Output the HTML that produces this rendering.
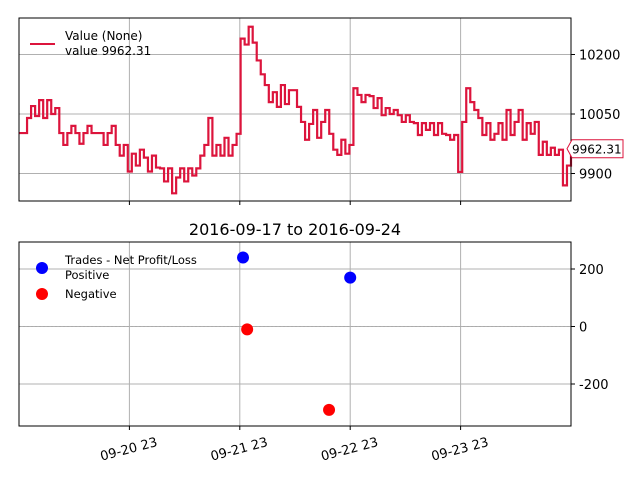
<!DOCTYPE html>
<html><head><meta charset="utf-8"><style>
body{margin:0;background:#fff;}
svg{display:block;font-family:"DejaVu Sans","Liberation Sans",sans-serif;}
</style></head><body>
<svg id="c" width="640" height="480"></svg>
<script>
const values=[10002,10002,
10040,10070,10045,10085,10040,10085,10050,10065,
10002,9972,10002,10020,10002,9975,10002,10020,10002,10002,
10002,9972,10002,10020,9972,
9945,9972,9905,9950,9920,9960,9940,9905,9945,9915,
9913,9880,9913,9850,9890,9913,9880,9913,9895,9913,
9945,9972,10040,9945,9972,9945,9990,9945,9972,10000,
10240,10225,10270,10230,
10185,10150,
10123,10080,10105,10068,10123,10075,10110,
10110,10068,
10030,9985,10025,10060,9990,10030,10060,10000,
9960,9947,9985,9950,9972,
10115,10098,10080,10098,10095,
10065,10090,10047,10065,10050,10060,
10047,10030,10047,10030,
10027,9997,10027,10010,10027,9997,10027,10000,
9997,9985,9997,9904,
10030,10115,10080,
10060,10040,
9997,10027,9985,10000,10027,9985,10060,9997,10030,10060,9985,10027,10000,10030,
9947,9980,9947,9965,9947,9960,
9870,9920,9962.31];
const topTicks=[9900,10050,10200];
const botTicks=[-200,0,200];
const xTickHours=[24,48,72,96];
const xTickLabels=["09-20 23","09-21 23","09-22 23","09-23 23"];
const posHours=[48.7,72.0];
const posValues=[240,170];
const negHours=[49.6,67.4];
const negValues=[-10,-290];

const NS="http://www.w3.org/2000/svg";
const svg=document.getElementById('c');
function mk(t,a,p){const e=document.createElementNS(NS,t);for(const k in a)e.setAttribute(k,a[k]);(p||svg).appendChild(e);return e;}
const X0=19,X1=571;
const xs=h=>X0+h/120*(X1-X0);
const yTop=v=>114-(v-10050)*59.5/150;
const yBot=v=>326.5-v*0.2875;

[[18,201,yTop,topTicks],[242,426,yBot,botTicks]].forEach(([t,b,f,ticks],k)=>{
  xTickHours.forEach(h=>{const l=mk('line',{x1:xs(h),x2:xs(h),y1:t,y2:b,stroke:'#b0b0b0','stroke-width':1});
    
    
    const tk=mk('line',{x1:xs(h),x2:xs(h),y1:b,y2:b+4,stroke:'#000'});
    
    });
  ticks.forEach(v=>{const y=f(v);
    const g=mk('line',{x1:X0,x2:X1,y1:y,y2:y,stroke:'#b0b0b0','stroke-width':1});
    
    
    mk('line',{x1:X1,x2:X1+4,y1:y,y2:y,stroke:'#000'});
    const tx=mk('text',{x:X1+8,y:y+5,'font-size':13,fill:'#000'});tx.textContent=v;
    
    });
});
const z=mk('line',{x1:X0,x2:X1,y1:yBot(0),y2:yBot(0),stroke:'#aaa','stroke-dasharray':'2,2'});



let d='';const n=values.length;
values.forEach((v,i)=>{const x=xs(i*120/(n-1));const y=yTop(v);
  if(i===0)d+='M'+x+','+y;else d+='H'+x+'V'+y;});
const p=mk('path',{d:d,fill:'none',stroke:'#dc143c','stroke-width':2.2});



posHours.forEach((h,i)=>{const c=mk('circle',{cx:xs(h),cy:yBot(posValues[i]),r:6,fill:'#0000ff'});
  
  });
negHours.forEach((h,i)=>{const c=mk('circle',{cx:xs(h),cy:yBot(negValues[i]),r:6,fill:'#ff0000'});
  
  });

[[18,201],[242,426]].forEach(([t,b])=>{const r=mk('rect',{x:X0,y:t,width:X1-X0,height:b-t,fill:'none',stroke:'#000','stroke-width':1});
  
  });

xTickHours.forEach((h,i)=>{const x=xs(h);
  const t=mk('text',{x:x+27,y:453,'font-size':13,'text-anchor':'end',transform:`rotate(-15 ${x} 443)`});
  t.textContent=xTickLabels[i];
  
  });

const g=mk('g',{});


const ly=yTop(values[n-1]);
mk('path',{d:`M567,${ly} L572,${ly-9} H623 V${ly+9} H572 Z`,fill:'#fff',stroke:'#dc143c','stroke-width':1},g);
const lt=mk('text',{x:572,y:ly+4.5,'font-size':12},g);lt.textContent=values[n-1].toFixed(2);

const ti=mk('text',{x:295,y:235,'font-size':16,'text-anchor':'middle'});ti.textContent='2016-09-17 to 2016-09-24';



const lg=mk('g',{});


mk('line',{x1:30,x2:55,y1:44,y2:44,stroke:'#dc143c','stroke-width':2},lg);
let t1=mk('text',{x:65,y:40,'font-size':12},lg);t1.textContent='Value (None)';
let t2=mk('text',{x:65,y:55,'font-size':12},lg);t2.textContent='value 9962.31';

const bl=mk('g',{});


mk('circle',{cx:42,cy:268,r:6,fill:'#0000ff'},bl);
mk('circle',{cx:42,cy:294,r:6,fill:'#ff0000'},bl);
let b1=mk('text',{x:65,y:264,'font-size':11.5},bl);b1.textContent='Trades - Net Profit/Loss';
let b2=mk('text',{x:65,y:279,'font-size':11.5},bl);b2.textContent='Positive';
let b3=mk('text',{x:65,y:298,'font-size':11.5},bl);b3.textContent='Negative';
</script>
</body></html>
